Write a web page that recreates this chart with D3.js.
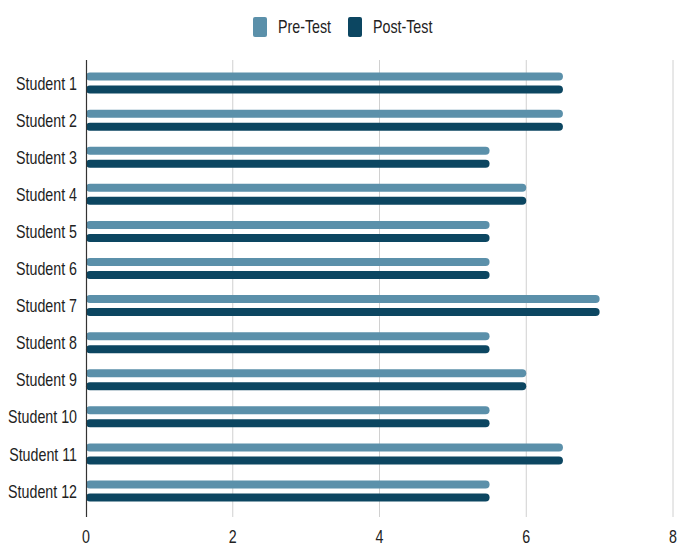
<!DOCTYPE html>
<head>
  <meta charset="utf-8">
  <title>Pre-Test / Post-Test</title>
  <script src="https://d3js.org/d3.v7.min.js"></script>
  <style>
    body { margin: 0; background: #fff; }
    text { font-family: "Liberation Sans", Arial, sans-serif; fill: #222; font-size: 19px; }
  </style>
</head>
<body>
  <div id="chart"></div>
  <script>
    // Daten
    var students = ['Student 1', 'Student 2', 'Student 3', 'Student 4', 'Student 5', 'Student 6',
                    'Student 7', 'Student 8', 'Student 9', 'Student 10', 'Student 11', 'Student 12'];
    var preTest  = [6.5, 6.5, 5.5, 6, 5.5, 5.5, 7, 5.5, 6, 5.5, 6.5, 5.5];
    var postTest = [6.5, 6.5, 5.5, 6, 5.5, 5.5, 7, 5.5, 6, 5.5, 6.5, 5.5];
    var seriesNames = ['Pre-Test', 'Post-Test'];
    var xTicks = [0, 2, 4, 6, 8];

    var colors = ['#5b90aa', '#0c4661'];
    var width = 677, height = 544;
    // schmale Schrift nachbilden (horizontal gestaucht)
    var squeeze = 0.75;

    function at(px, py) {
      return 'translate(' + px + ',' + py + ') scale(' + squeeze + ',1)';
    }

    var data = students.map(function (s, i) {
      return { name: s, values: [preTest[i], postTest[i]] };
    });

    var x = d3.scaleLinear().domain([0, 8]).range([86, 673]);
    var y = d3.scaleBand().domain(students).range([64.5, 509.5]);

    var svg = d3.select('#chart').append('svg')
      .attr('width', width)
      .attr('height', height);

    // Gitternetz
    svg.append('g').selectAll('line')
      .data(xTicks.slice(1))
      .join('line')
        .attr('x1', function (d) { return x(d); })
        .attr('x2', function (d) { return x(d); })
        .attr('y1', 60).attr('y2', 517)
        .attr('stroke', '#d0d0d0')
        .attr('stroke-width', 1);

    // Balken
    var bh = 8;
    var groups = svg.append('g').selectAll('g')
      .data(data)
      .join('g')
        .attr('transform', function (d) { return 'translate(0,' + (y(d.name) + y.bandwidth() / 2) + ')'; });

    groups.selectAll('rect')
      .data(function (d) { return d.values; })
      .join('rect')
        .attr('x', x(0))
        .attr('y', function (d, i) { return i === 0 ? -10.5 : 2.5; })
        .attr('width', function (d) { return x(d) - x(0); })
        .attr('height', bh)
        .attr('rx', 4)
        .attr('fill', function (d, i) { return colors[i]; });

    // y-Achse (Linie + Beschriftungen)
    svg.append('line')
      .attr('x1', 86.5).attr('x2', 86.5)
      .attr('y1', 60).attr('y2', 517)
      .attr('stroke', '#333')
      .attr('stroke-width', 1.2);

    svg.append('g').selectAll('text')
      .data(students)
      .join('text')
        .attr('transform', function (d) { return at(77, y(d) + y.bandwidth() / 2); })
        .attr('dy', '0.35em')
        .attr('text-anchor', 'end')
        .text(function (d) { return d; });

    // x-Achse
    svg.append('g').selectAll('text')
      .data(xTicks)
      .join('text')
        .attr('transform', function (d) { return at(x(d), 543); })
        .attr('text-anchor', 'middle')
        .text(function (d) { return d; });

    // Legende
    var legend = svg.append('g');
    var lx = [253, 348];
    seriesNames.forEach(function (name, i) {
      legend.append('rect')
        .attr('x', lx[i]).attr('y', 17)
        .attr('width', 14).attr('height', 20)
        .attr('rx', 2)
        .attr('fill', colors[i]);
      legend.append('text')
        .attr('transform', at(lx[i] + 25, 33))
        .text(name);
    });
  </script>
</body>
